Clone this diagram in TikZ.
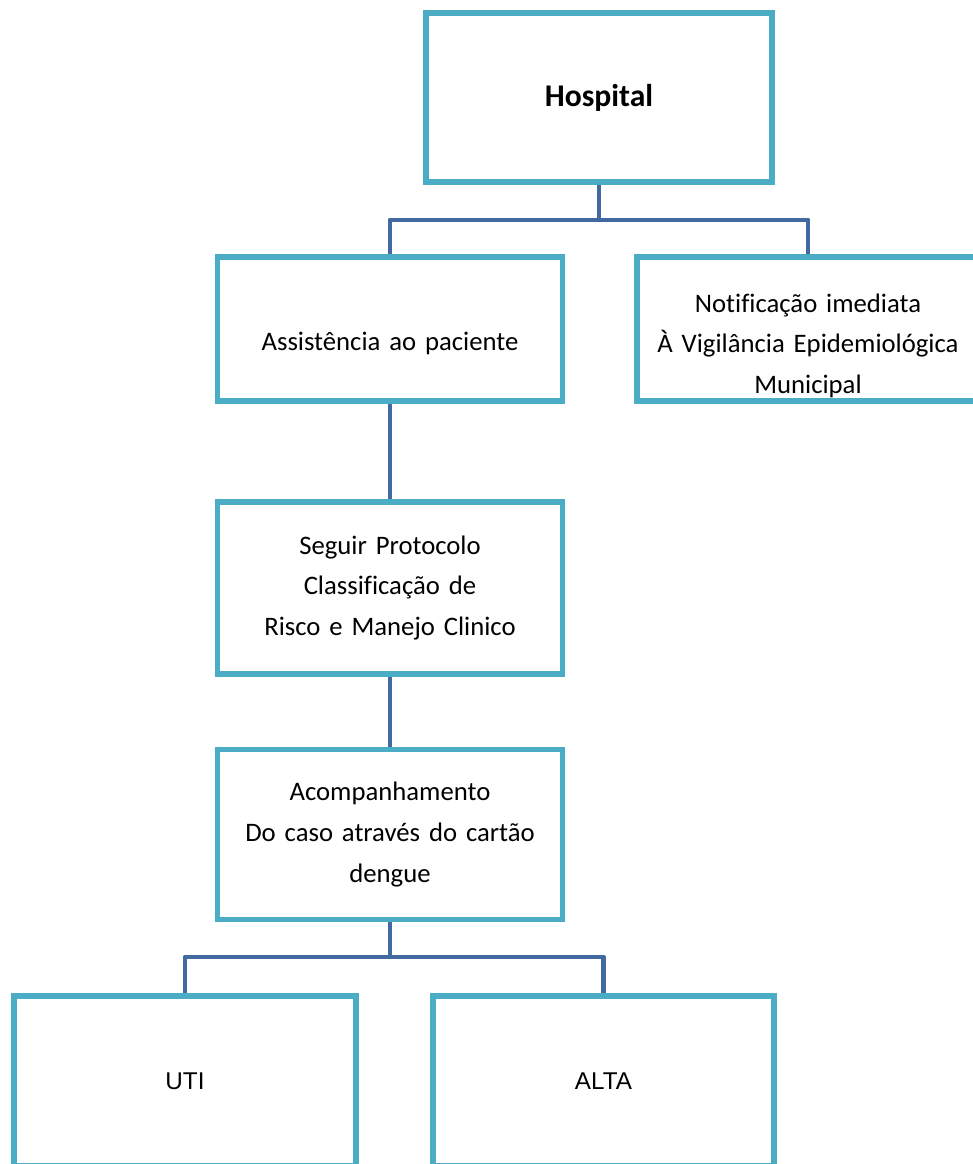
\documentclass[tikz,border=0pt]{standalone}
\usepackage{fontspec}
\setmainfont{Carlito}[Ligatures=NoCommon]
\newfontfamily\arialfont{Liberation Sans}

\definecolor{boxblue}{RGB}{75,172,198}
\definecolor{linkblue}{RGB}{67,106,160}

\begin{document}
\begin{tikzpicture}[x=0.02cm,y=-0.02cm]

% definitions
\tikzstyle{box} = [rectangle, minimum width=6.9cm, minimum height=2.88cm, text centered, draw=boxblue, line width=3.2pt, fill=white, text width=6.2cm, font={\fontsize{15.2}{23.3}\selectfont}]

\tikzstyle{title} = [box, font={\fontsize{18}{22}\selectfont\bfseries}]

\tikzstyle{endbox} = [box, font={\arialfont\fontsize{13.8}{16}\selectfont}]

\tikzstyle{link} = [draw=linkblue, line width=2.8pt, line join=round]

\useasboundingbox (0,0) rectangle (973,1164);

% the graph
\node (hosp) [title, minimum width=6.92cm, minimum height=3.38cm] at (599,97.5) {Hospital};

\node (assist) [box, text height=0.84cm, text depth=0pt] at (390,329) {Assistência ao paciente};

\node (notif) [box, minimum width=6.84cm, text height=0pt, text depth=0.68cm] at (808,329) {Notificação imediata\\ À Vigilância Epidemiológica\\ Municipal};

\node (seguir) [box, minimum height=3.44cm] at (390,588) {Seguir Protocolo\\ Classificação de\\ Risco e Manejo Clinico};

\node (acomp) [box, minimum height=3.4cm] at (390,834.5) {Acompanhamento\\ Do caso através do cartão\\ dengue};

\node (uti) [endbox, minimum width=6.84cm, minimum height=3.4cm] at (185,1081) {UTI};

\node (alta) [endbox, minimum width=6.82cm, minimum height=3.4cm] at (603.5,1081) {ALTA};

\coordinate (split1) at (599,220);
\coordinate (split2) at (390,957);

\draw [link] (hosp) -- (split1);
\draw [link] (split1) -| (assist);
\draw [link] (split1) -| (notif);
\draw [link] (assist) -- (seguir);
\draw [link] (seguir) -- (acomp);
\draw [link] (acomp) -- (split2);
\draw [link] (split2) -| (uti);
\draw [link] (split2) -| (alta);

\end{tikzpicture}
\end{document}
